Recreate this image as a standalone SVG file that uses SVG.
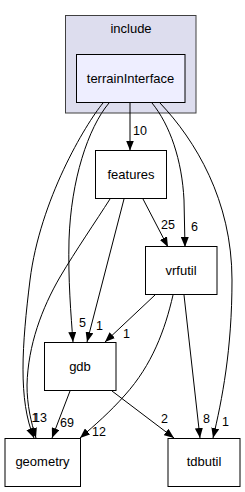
<svg xmlns="http://www.w3.org/2000/svg" width="245" height="492" viewBox="0 0 245 492">
<style>
text{font-family:"Liberation Sans",Arial,sans-serif;font-size:13px;fill:#000}
.n{text-anchor:middle}
.box{fill:#fff;stroke:#000;stroke-width:1}
.e{fill:none;stroke:#000;stroke-width:1;marker-end:url(#a)}
.l{font-size:12.5px}
</style>
<defs>
<marker id="a" markerWidth="10" markerHeight="8" refX="10" refY="4" orient="auto" markerUnits="userSpaceOnUse">
<path d="M0,0L10,4L0,8z" fill="#000"/>
</marker>
</defs>
<rect width="245" height="492" fill="#fff"/>
<g id="cluster_include">
<rect x="65.5" y="15.5" width="130.5" height="97.5" fill="#ddddee" stroke="#404040"/>
<text class="n" x="131" y="33">include</text>
</g>
<g id="node_terrainInterface">
<rect x="76.5" y="54.5" width="108.5" height="48" fill="#eeeeff" stroke="#000"/>
<text class="n" x="130.5" y="83">terrainInterface</text>
</g>
<g id="node_features">
<rect class="box" x="95.5" y="150.5" width="71" height="48"/>
<text class="n" x="131" y="178.5">features</text>
</g>
<g id="node_vrfutil">
<rect class="box" x="145.5" y="246.5" width="71.5" height="48"/>
<text class="n" x="181" y="274.5">vrfutil</text>
</g>
<g id="node_gdb">
<rect class="box" x="44.5" y="342.5" width="71.5" height="48"/>
<text class="n" x="80" y="370.5">gdb</text>
</g>
<g id="node_geometry">
<rect class="box" x="5" y="438.5" width="75.5" height="48"/>
<text class="n" x="42.5" y="466">geometry</text>
</g>
<g id="node_tdbutil">
<rect class="box" x="168" y="438.5" width="72" height="48"/>
<text class="n" x="204" y="466">tdbutil</text>
</g>
<g id="edges">
<path class="e" d="M130,103L130,150.5"/>
<text class="l" x="133" y="135">10</text>
<path class="e" d="M103,103C85,125 40,200 30,280C22,345 18,400 34,438"/>
<text class="l" x="33" y="422">13</text>
<path class="e" d="M110,199C96,221 76,250 60,277C42,308 28,345 27,385C27,405 31,422 36,438"/>
<text class="l" x="31.5" y="422">1</text>
<path class="e" d="M109,103C88,128 71,180 69,240C68,280 71,315 73,342"/>
<text class="l" x="79" y="327">5</text>
<path class="e" d="M124,199L87,342"/>
<text class="l" x="96" y="330">1</text>
<path class="e" d="M143,199L168,247"/>
<text class="l" x="161" y="229">25</text>
<path class="e" d="M152,103C170,125 182,160 184,200L185,247"/>
<text class="l" x="191" y="231">6</text>
<path class="e" d="M160,103C195,140 232,200 232,280C232,350 222,400 213,438"/>
<text class="l" x="222" y="426">1</text>
<path class="e" d="M155,295L105,342"/>
<text class="l" x="123" y="338">1</text>
<path class="e" d="M173,295C165,330 152,365 125,395C110,412 95,425 80,438"/>
<text class="l" x="92" y="436">12</text>
<path class="e" d="M184,295L200,438"/>
<text class="l" x="203" y="423">8</text>
<path class="e" d="M70,391L52,438"/>
<text class="l" x="60" y="427">69</text>
<path class="e" d="M112,391L174,438"/>
<text class="l" x="161" y="423">2</text>
</g>
</svg>
